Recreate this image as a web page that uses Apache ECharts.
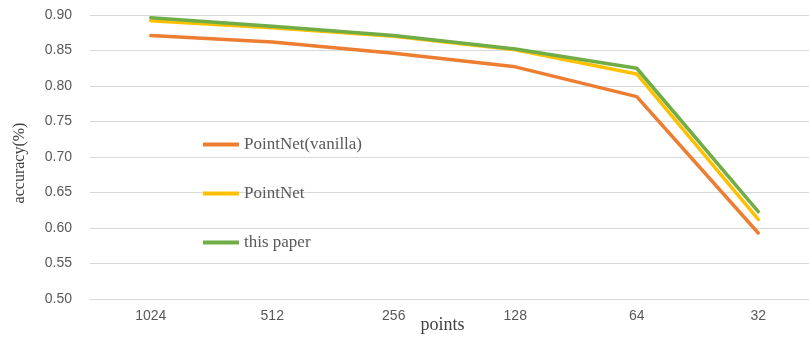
<!DOCTYPE html>
<html>
<head>
<meta charset="utf-8">
<script src="https://cdn.jsdelivr.net/npm/echarts@6/dist/echarts.min.js"></script>
<style>
  html, body { margin: 0; padding: 0; background: #fff; }
  #main { width: 809px; height: 339px; }
</style>
</head>
<body>
<div id="main"></div>
<script>
var categories = ['1024', '512', '256', '128', '64', '32'];
var vanilla = [0.871, 0.862, 0.846, 0.827, 0.785, 0.593];
var pointnet = [0.892, 0.882, 0.870, 0.851, 0.817, 0.612];
var thisPaper = [0.896, 0.884, 0.871, 0.852, 0.825, 0.623];

var myChart = echarts.init(document.getElementById('main'));
var option = {
    animation: false,
    grid: {
        left: 90,
        top: 15,
        width: 729,
        bottom: 40,
        outerBoundsMode: 'none'
    },
    legend: {
        orient: 'vertical',
        left: 198,
        top: 131,
        itemGap: 32,
        icon: 'rect',
        itemWidth: 36,
        itemHeight: 4,
        textStyle: {
            fontFamily: 'Liberation Serif',
            fontSize: 17,
            color: '#595959'
        },
        data: ['PointNet(vanilla)', 'PointNet', 'this paper']
    },
    xAxis: {
        type: 'category',
        data: categories,
        boundaryGap: true,
        name: 'points',
        nameLocation: 'middle',
        nameGap: 17,
        nameMoveOverlap: false,
        nameTextStyle: {
            fontFamily: 'Liberation Serif',
            fontSize: 18,
            color: '#404040',
            padding: [0, 24, 0, 0]
        },
        axisLine: { lineStyle: { color: '#d9d9d9' } },
        axisTick: { length: 4, lineStyle: { color: '#d9d9d9' } },
        axisLabel: {
            fontFamily: 'Liberation Sans',
            fontSize: 14,
            color: '#595959',
            margin: 10
        }
    },
    yAxis: {
        type: 'value',
        min: 0.5,
        max: 0.9,
        interval: 0.05,
        name: 'accuracy(%)',
        nameLocation: 'middle',
        nameGap: 62,
        nameMoveOverlap: false,
        nameTextStyle: {
            fontFamily: 'Liberation Serif',
            fontSize: 16,
            color: '#404040',
            padding: [0, 12, 0, 0]
        },
        axisLine: { show: false },
        axisTick: { show: false },
        splitLine: { lineStyle: { color: '#d9d9d9' } },
        axisLabel: {
            fontFamily: 'Liberation Sans',
            fontSize: 14,
            color: '#595959',
            margin: 18,
            formatter: function (v) { return v.toFixed(2); }
        }
    },
    series: [
        {
            name: 'PointNet(vanilla)',
            type: 'line',
            data: vanilla,
            symbol: 'none',
            color: '#ED7D31',
            lineStyle: { width: 3.5, cap: 'round' }
        },
        {
            name: 'PointNet',
            type: 'line',
            data: pointnet,
            symbol: 'none',
            color: '#FFC000',
            lineStyle: { width: 3.5, cap: 'round' }
        },
        {
            name: 'this paper',
            type: 'line',
            data: thisPaper,
            symbol: 'none',
            color: '#70AD47',
            lineStyle: { width: 3.5, cap: 'round' }
        }
    ]
};
myChart.setOption(option, true);
</script>
</body>
</html>
